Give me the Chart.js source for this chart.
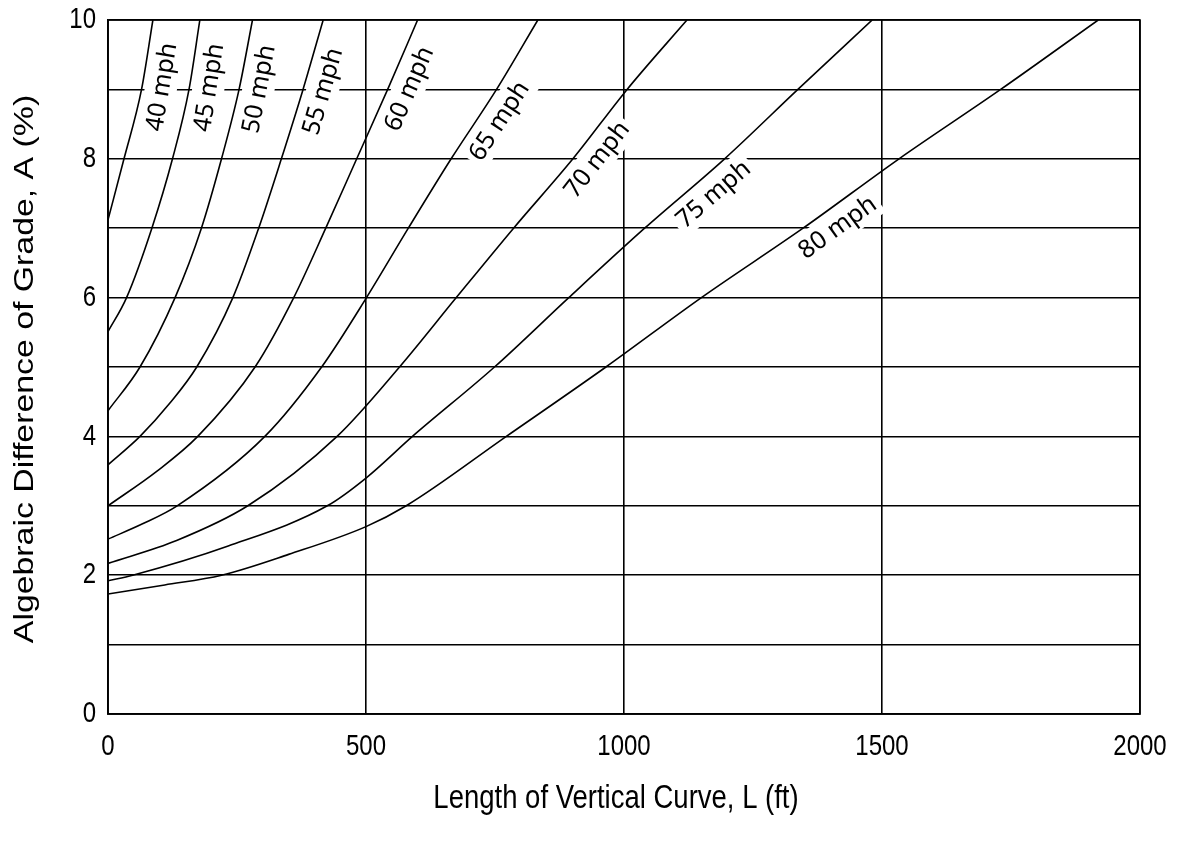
<!DOCTYPE html>
<html>
<head>
<meta charset="utf-8">
<title>Vertical curve length</title>
<script src="https://cdn.jsdelivr.net/npm/chart.js@4.4.1/dist/chart.umd.min.js"></script>
<style>
  html, body { margin: 0; padding: 0; background: #fff; }
</style>
</head>
<body>
<canvas id="chart" width="1180" height="843"></canvas>
<script>
// values: L = length of curve (ft), A = grade difference (%)
const speeds = ['40 mph', '45 mph', '50 mph', '55 mph', '60 mph', '65 mph', '70 mph', '75 mph', '80 mph'];

const L40 = [0, 31, 65, 87];
const A40 = [7.12, 8, 9, 10];
const L45 = [0, 36, 85, 125, 157, 178];
const A45 = [5.51, 6, 7, 8, 9, 10];
const L50 = [0, 62, 130, 181, 220, 254, 280];
const A50 = [4.37, 5, 6, 7, 8, 9, 10];
const L55 = [0, 62, 120, 172, 242, 292, 336, 378, 417];
const A55 = [3.59, 4, 4.48, 5, 6, 7, 8, 9, 10];
const L60 = [0, 95, 174, 285, 360, 422, 482, 542, 600];
const A60 = [3.0, 3.5, 4, 5, 6, 7, 8, 9, 10];
const L65 = [0, 67, 134, 304, 414, 501, 582, 665, 753, 833];
const A65 = [2.52, 2.74, 3, 4, 5, 6, 7, 8, 9, 10];
const L70 = [0, 133, 271, 444, 565, 675, 786, 901, 1006, 1122];
const A70 = [2.17, 2.5, 3, 4, 5, 6, 7, 8, 9, 10];
const L75 = [0, 48, 233, 425, 500, 590, 749, 893, 1040, 1195, 1337, 1481];
const A75 = [1.92, 2, 2.42, 3, 3.4, 4, 5, 6, 7, 8, 9, 10];
const L80 = [0, 110, 220, 350, 500, 578, 772, 965, 1150, 1347, 1533, 1730, 1919];
const A80 = [1.73, 1.86, 2, 2.3, 2.7, 3, 4, 5, 6, 7, 8, 9, 10];

const xTicks = [0, 500, 1000, 1500, 2000];
const yGrid = [0, 1, 2, 3, 4, 5, 6, 7, 8, 9, 10];
const yLabels = [0, 2, 4, 6, 8, 10];

// where along each curve (value of A) its speed label sits
const labelAt = [9.08, 9.07, 9.06, 9.05, 9.12, 8.7, 8.16, 7.7, 7.24];

const Ls = [L40, L45, L50, L55, L60, L65, L70, L75, L80];
const As = [A40, A45, A50, A55, A60, A65, A70, A75, A80];

const datasets = speeds.map((name, i) => ({
  label: name,
  data: Ls[i].map((l, j) => ({ x: l, y: As[i][j] })),
  borderColor: '#000',
  borderWidth: 1.6,
  pointRadius: 0,
  fill: false,
  cubicInterpolationMode: 'monotone'
}));

// the source picture is a bit taller than wide, so its text looks stretched
const stretch = 1.23;
const axisFont = '"Liberation Sans", Arial, sans-serif';

function tallText(ctx, text, x, y, size, align, vertical) {
  ctx.save();
  ctx.translate(x, y);
  if (vertical) {
    ctx.rotate(-Math.PI / 2);
    ctx.scale(stretch, 1);
  } else {
    ctx.scale(1, stretch);
  }
  ctx.font = size + 'px ' + axisFont;
  ctx.textAlign = align;
  ctx.textBaseline = 'middle';
  ctx.fillStyle = '#000';
  ctx.fillText(text, 0, 0);
  ctx.restore();
}

const axisText = {
  id: 'axisText',
  afterDraw(chart) {
    const { ctx, scales: { x, y }, chartArea: a } = chart;
    xTicks.forEach(v => tallText(ctx, String(v), x.getPixelForValue(v), a.bottom + 33, 24, 'center'));
    yLabels.forEach(v => tallText(ctx, String(v), a.left - 12, y.getPixelForValue(v), 24, 'right'));
    tallText(ctx, 'Length of Vertical Curve, L (ft)', (a.left + a.right) / 2 - 8, a.bottom + 85, 27.5, 'center');
    tallText(ctx, 'Algebraic Difference of Grade, A (%)', 25, (a.top + a.bottom) / 2 + 2, 27.5, 'center', true);
  }
};

// speed labels rotated along the curves, white box hides the grid under them
const curveLabels = {
  id: 'curveLabels',
  beforeDatasetsDraw(chart) {
    const ctx = chart.ctx;
    const xs = chart.scales.x, ys = chart.scales.y;
    ctx.save();
    ctx.font = '25px "Noto Sans", sans-serif';
    ctx.textAlign = 'center';
    ctx.textBaseline = 'middle';
    speeds.forEach((name, i) => {
      const L = Ls[i], A = As[i], a = labelAt[i];
      let k = 1;
      while (k < A.length - 1 && A[k] < a) k++;
      const t = (a - A[k - 1]) / (A[k] - A[k - 1]);
      const l = L[k - 1] + t * (L[k] - L[k - 1]);
      const px = xs.getPixelForValue(l), py = ys.getPixelForValue(a);
      const dx = xs.getPixelForValue(L[k]) - xs.getPixelForValue(L[k - 1]);
      const dy = ys.getPixelForValue(A[k]) - ys.getPixelForValue(A[k - 1]);
      const ang = Math.atan2(dy, dx);
      const off = 19;
      const cx = px - Math.sin(ang) * off, cy = py + Math.cos(ang) * off;
      const w = ctx.measureText(name).width;
      ctx.save();
      ctx.translate(cx, cy);
      ctx.rotate(ang);
      ctx.fillStyle = '#fff';
      ctx.fillRect(-w / 2 - 4, -16, w + 8, 32);
      ctx.fillStyle = '#000';
      ctx.fillText(name, 0, 1);
      ctx.restore();
    });
    ctx.restore();
  }
};

const frame = {
  id: 'frame',
  beforeDatasetsDraw(chart) {
    const { ctx, chartArea: a } = chart;
    ctx.save();
    ctx.strokeStyle = '#000';
    ctx.lineWidth = 1.6;
    ctx.strokeRect(a.left, a.top, a.right - a.left, a.bottom - a.top);
    ctx.restore();
  }
};

new Chart(document.getElementById('chart'), {
  type: 'line',
  data: { datasets },
  options: {
    responsive: false,
    animation: false,
    layout: { padding: { top: 20, right: 40, left: 0, bottom: 0 } },
    plugins: { legend: { display: false }, tooltip: { enabled: false } },
    scales: {
      x: {
        type: 'linear',
        min: 0, max: 2000,
        afterFit: s => { s.height = 129; },
        afterBuildTicks: s => { s.ticks = xTicks.map(v => ({ value: v })); },
        grid: { color: '#000', lineWidth: 1.6, drawTicks: false },
        border: { color: '#000', width: 1.6 },
        ticks: { display: false }
      },
      y: {
        type: 'linear',
        min: 0, max: 10,
        afterFit: s => { s.width = 108; },
        afterBuildTicks: s => { s.ticks = yGrid.map(v => ({ value: v })); },
        grid: { color: '#000', lineWidth: 1.6, drawTicks: false },
        border: { color: '#000', width: 1.6 },
        ticks: { display: false }
      }
    }
  },
  plugins: [curveLabels, frame, axisText]
});
</script>
</body>
</html>
